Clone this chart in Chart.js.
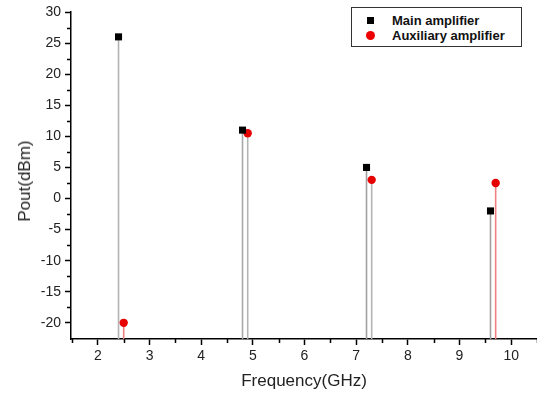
<!DOCTYPE html>
<html>
<head>
<meta charset="utf-8">
<script src="https://cdn.jsdelivr.net/npm/chart.js@4.4.1/dist/chart.umd.min.js"></script>
<style>
  html, body { margin: 0; padding: 0; background: #fff; }
  #wrap { position: relative; width: 537px; height: 397px; overflow: hidden; }
  #legend {
    position: absolute; left: 351px; top: 7px; width: 171px; height: 40px;
    border: 1px solid #333; box-sizing: border-box; background: #fff;
    font-family: "Liberation Sans", Arial, sans-serif; font-weight: bold; font-size: 13px; color: #111;
  }
  .item { position: absolute; left: 0; height: 14px; line-height: 14px; }
  .item span.t { position: absolute; left: 40px; white-space: nowrap; }
  .sq { position: absolute; left: 15px; top: 3px; width: 7px; height: 7px; background: #000; }
  .ci { position: absolute; left: 14px; top: 2px; width: 9px; height: 9px; border-radius: 50%; background: #e00; }
  #ytitle {
    position: absolute; left: 25px; top: 181px; transform: translate(-50%, -50%) rotate(-90deg);
    font-family: "Liberation Sans", Arial, sans-serif; font-size: 17px; color: #222; white-space: nowrap;
  }
</style>
</head>
<body>
<div id="wrap">
  <canvas id="c" width="537" height="397"></canvas>
  <div id="ytitle">Pout(dBm)</div>
  <div id="legend">
    <div class="item" style="top:6px"><div class="sq"></div><span class="t">Main amplifier</span></div>
    <div class="item" style="top:21px"><div class="ci"></div><span class="t">Auxiliary amplifier</span></div>
  </div>
</div>
<script>
// ---- data ----
const mainFreq = [2.4, 4.8, 7.2, 9.6];
const mainPout = [26, 11, 5, -2];
const auxFreq = [2.5, 4.9, 7.3, 9.7];
const auxPout = [-20, 10.5, 3, 2.5];
const xTicks = [2, 3, 4, 5, 6, 7, 8, 9, 10];
const yTicks = [-20, -15, -10, -5, 0, 5, 10, 15, 20, 25, 30];
const xMin = 1.48, xMax = 10.5, yMin = -22.6, yMax = 30;

// ---- styles ----
const mainStemColor = ['#b4b4b4', '#a8a8a8', '#a0a0a0', '#a0a0a0'];
const auxStemColor = ['#f08080', '#b4b4b4', '#b4b4b4', '#f08080'];
const FONT = '"Liberation Sans", Arial, sans-serif';

const datasets = [];
mainFreq.forEach((f, i) => datasets.push({
  type: 'line', data: [{x: f, y: yMin}, {x: f, y: mainPout[i]}],
  borderColor: mainStemColor[i], borderWidth: 1.6, pointRadius: 0, order: 5
}));
auxFreq.forEach((f, i) => datasets.push({
  type: 'line', data: [{x: f, y: yMin}, {x: f, y: auxPout[i]}],
  borderColor: auxStemColor[i], borderWidth: 1.6, pointRadius: 0, order: 5
}));
datasets.push({
  type: 'scatter', label: 'Main amplifier',
  data: mainFreq.map((f, i) => ({x: f, y: mainPout[i]})),
  pointStyle: 'rect', pointRadius: 5, backgroundColor: '#000', borderColor: '#000', borderWidth: 0, order: 1
});
datasets.push({
  type: 'scatter', label: 'Auxiliary amplifier',
  data: auxFreq.map((f, i) => ({x: f, y: auxPout[i]})),
  pointStyle: 'circle', pointRadius: 4.2, backgroundColor: '#e60000', borderColor: '#e60000', borderWidth: 0, order: 1
});

const minorTicks = {
  id: 'minorTicks',
  afterDraw(chart) {
    const ctx = chart.ctx;
    const xs = chart.scales.x, ys = chart.scales.y;
    ctx.save();
    ctx.strokeStyle = '#000';
    ctx.lineWidth = 1.5;
    ctx.beginPath();
    const xm = [xTicks[0] - 0.5].concat(xTicks.map(v => v + 0.5));
    xm.forEach(v => {
      if (v < xMin || v > xMax) return;
      const px = Math.round(xs.getPixelForValue(v)) + 0.5;
      ctx.moveTo(px, xs.top); ctx.lineTo(px, xs.top + 4);
    });
    yTicks.forEach(t => {
      const v = t + 2.5;
      if (v > yMax) return;
      const py = Math.round(ys.getPixelForValue(v)) + 0.5;
      ctx.moveTo(ys.right, py); ctx.lineTo(ys.right - 4, py);
    });
    ctx.stroke();
    ctx.restore();
  }
};

new Chart(document.getElementById('c'), {
  data: { datasets },
  options: {
    responsive: false,
    animation: false,
    layout: { autoPadding: false, padding: { left: 0, right: 0, top: 12, bottom: 0 } },
    plugins: { legend: { display: false }, tooltip: { enabled: false } },
    scales: {
      x: {
        type: 'linear', min: xMin, max: xMax,
        afterBuildTicks: s => { s.ticks = xTicks.map(v => ({value: v})); },
        afterFit: s => { s.height = 58; s.paddingLeft = 0; s.paddingRight = 0; },
        grid: { display: true, drawOnChartArea: false, drawTicks: true, tickLength: 6, tickColor: '#000', tickWidth: 1.5 },
        border: { display: true, color: '#000', width: 1.5 },
        ticks: { color: '#222', font: { family: FONT, size: 14 }, padding: 3, maxRotation: 0, autoSkip: false },
        title: { display: true, text: 'Frequency(GHz)', color: '#222', font: { family: FONT, size: 17 }, padding: { top: 4, bottom: 5 } }
      },
      y: {
        type: 'linear', min: yMin, max: yMax,
        afterBuildTicks: s => { s.ticks = yTicks.map(v => ({value: v})); },
        afterFit: s => { s.width = 71; s.paddingTop = 0; s.paddingBottom = 0; },
        grid: { display: true, drawOnChartArea: false, drawTicks: true, tickLength: 6, tickColor: '#000', tickWidth: 1.5 },
        border: { display: true, color: '#000', width: 1.5 },
        ticks: { color: '#222', font: { family: FONT, size: 14 }, padding: 4, autoSkip: false },
        title: { display: false }
      }
    }
  },
  plugins: [minorTicks]
});
</script>
</body>
</html>
